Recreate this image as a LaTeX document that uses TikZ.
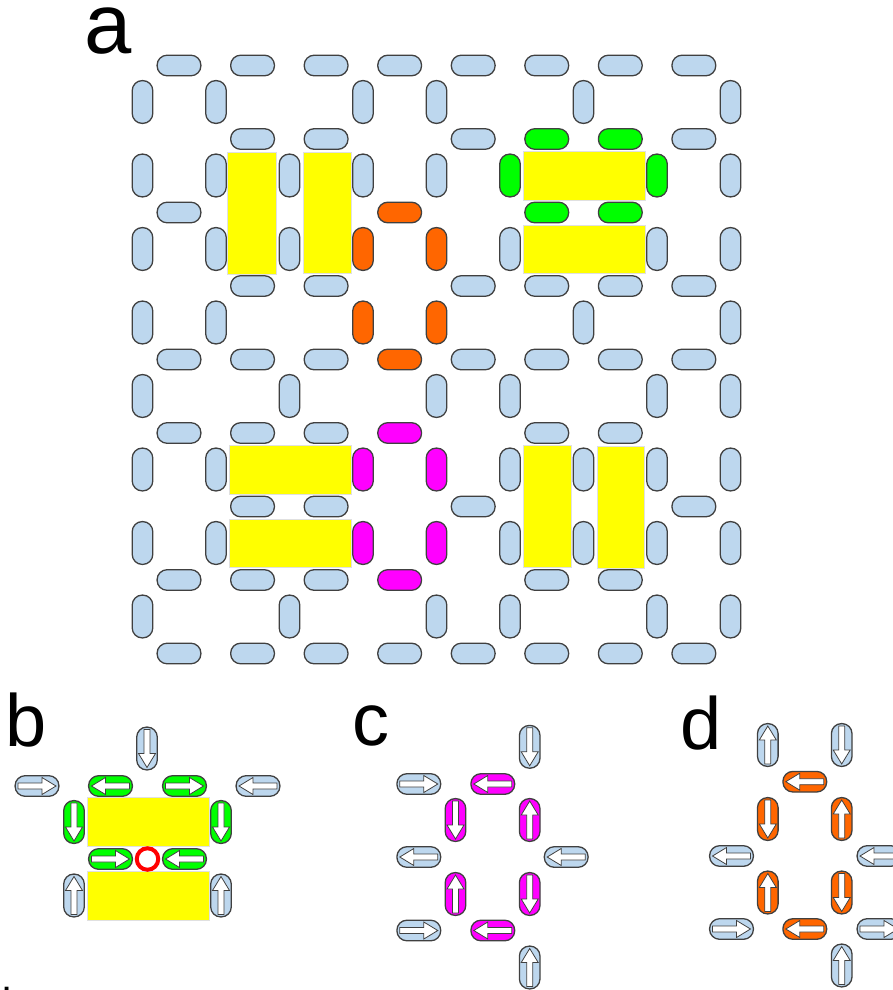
\documentclass[tikz,border=0pt]{standalone}
\usepackage{fontspec}
\newfontfamily\labfont{Liberation Sans}
\definecolor{cb}{HTML}{BDD7EE}
\definecolor{cg}{HTML}{00FF00}
\definecolor{co}{HTML}{FF6600}
\definecolor{cm}{HTML}{FF00FF}
\definecolor{bord}{HTML}{404040}
\definecolor{yel}{HTML}{FFFF00}
\begin{document}
\begin{tikzpicture}[x=0.5pt,y=-0.5pt,
  pill/.style={draw=bord, line width=0.65pt, rectangle, rounded corners=5pt, inner sep=0pt, outer sep=0pt},
  pillH/.style={pill, minimum width=21.9pt, minimum height=10.3pt},
  pillV/.style={pill, minimum width=10.3pt, minimum height=21.4pt},
  ybox/.style={fill=yel, draw=black!12, line width=0.3pt},
  ring/.style={circle, draw=red, line width=2pt, fill=white, minimum size=10.75pt, inner sep=0pt},
  arrsty/.style={draw=bord, fill=white, line width=0.4pt, line join=miter},
  lab/.style={anchor=base west, inner sep=0pt, font=\labfont\fontsize{37pt}{40pt}\selectfont},
  pics/arr/.style={code={\path[arrsty] (-19,-3) -- (5,-3) -- (5,-8.5) -- (19,0) -- (5,8.5) -- (5,3) -- (-19,3) -- cycle;}}
]
\useasboundingbox (0,0) rectangle (893,990);

% ---------- panel a ----------
\node[lab, font=\labfont\fontsize{42.5pt}{46pt}\selectfont] (la) at (83.7,54) {a};

% yellow blocks
\path[ybox] (227,152) rectangle (276,274);
\path[ybox] (303,152) rectangle (351,273);
\path[ybox] (523,151) rectangle (645,200);
\path[ybox] (523,225) rectangle (645,273);
\path[ybox] (229,445) rectangle (351,494);
\path[ybox] (229,519) rectangle (351,567);
\path[ybox] (523,445) rectangle (571,567);
\path[ybox] (597,446) rectangle (644,568);

% horizontal pills
\foreach \k/\c in {0/cb,1/cb,2/cb,3/cb,4/cb,5/cb,6/cb,7/cb}
  \node[pillH, fill=\c] (h0\k) at ({179+73.55*\k},65.5) {};
\foreach \k/\c in {1/cb,2/cb,4/cb,5/cg,6/cg,7/cb}
  \node[pillH, fill=\c] (h1\k) at ({179+73.55*\k},139) {};
\foreach \k/\c in {0/cb,3/co,5/cg,6/cg}
  \node[pillH, fill=\c] (h2\k) at ({179+73.55*\k},212.5) {};
\foreach \k/\c in {1/cb,2/cb,4/cb,5/cb,6/cb,7/cb}
  \node[pillH, fill=\c] (h3\k) at ({179+73.55*\k},286) {};
\foreach \k/\c in {0/cb,1/cb,2/cb,3/co,4/cb,5/cb,6/cb,7/cb}
  \node[pillH, fill=\c] (h4\k) at ({179+73.55*\k},359.5) {};
\foreach \k/\c in {0/cb,1/cb,2/cb,3/cm,5/cb,6/cb}
  \node[pillH, fill=\c] (h5\k) at ({179+73.55*\k},433) {};
\foreach \k/\c in {1/cb,2/cb,4/cb,7/cb}
  \node[pillH, fill=\c] (h6\k) at ({179+73.55*\k},506.5) {};
\foreach \k/\c in {0/cb,1/cb,2/cb,3/cm,5/cb,6/cb}
  \node[pillH, fill=\c] (h7\k) at ({179+73.55*\k},580) {};
\foreach \k/\c in {0/cb,1/cb,2/cb,3/cb,4/cb,5/cb,6/cb,7/cb}
  \node[pillH, fill=\c] (h8\k) at ({179+73.55*\k},653.5) {};

% vertical pills
\foreach \k/\c in {0/cb,1/cb,3/cb,4/cb,6/cb,8/cb}
  \node[pillV, fill=\c] (v0\k) at ({142.5+73.5*\k},102) {};
\foreach \k/\c in {0/cb,1/cb,2/cb,3/cb,4/cb,5/cg,7/cg,8/cb}
  \node[pillV, fill=\c] (v1\k) at ({142.5+73.5*\k},175.5) {};
\foreach \k/\c in {0/cb,1/cb,2/cb,3/co,4/co,5/cb,7/cb,8/cb}
  \node[pillV, fill=\c] (v2\k) at ({142.5+73.5*\k},249) {};
\foreach \k/\c in {0/cb,1/cb,3/co,4/co,6/cb,8/cb}
  \node[pillV, fill=\c] (v3\k) at ({142.5+73.5*\k},322.5) {};
\foreach \k/\c in {0/cb,2/cb,4/cb,5/cb,7/cb,8/cb}
  \node[pillV, fill=\c] (v4\k) at ({142.5+73.5*\k},396) {};
\foreach \k/\c in {0/cb,1/cb,3/cm,4/cm,5/cb,6/cb,7/cb,8/cb}
  \node[pillV, fill=\c] (v5\k) at ({142.5+73.5*\k},469.5) {};
\foreach \k/\c in {0/cb,1/cb,3/cm,4/cm,5/cb,6/cb,7/cb,8/cb}
  \node[pillV, fill=\c] (v6\k) at ({142.5+73.5*\k},543) {};
\foreach \k/\c in {0/cb,2/cb,4/cb,5/cb,7/cb,8/cb}
  \node[pillV, fill=\c] (v7\k) at ({142.5+73.5*\k},616.5) {};

% ---------- panel b ----------
\node[lab] (lb) at (5.2,746) {b};
\path[ybox] (87,797) rectangle (209,846);
\path[ybox] (87,871) rectangle (209,920);
\node[pillV, fill=cb] (b1) at (147,748.5) {};   \pic[rotate=-90] at (b1) {arr};
\node[pillH, fill=cb] (b2) at (37,786) {};      \pic at (b2) {arr};
\node[pillH, fill=cg] (b3) at (110.5,786) {};   \pic[rotate=180] at (b3) {arr};
\node[pillH, fill=cg] (b4) at (184.5,786) {};   \pic at (b4) {arr};
\node[pillH, fill=cb] (b5) at (258,786) {};     \pic[rotate=180] at (b5) {arr};
\node[pillV, fill=cg] (b6) at (74,822) {};      \pic[rotate=-90] at (b6) {arr};
\node[pillV, fill=cg] (b7) at (221,822) {};     \pic[rotate=-90] at (b7) {arr};
\node[pillH, fill=cg] (b8) at (110.5,859) {};   \pic at (b8) {arr};
\node[ring] (bring) at (147.5,859) {};
\node[pillH, fill=cg] (b9) at (184.5,859) {};   \pic[rotate=180] at (b9) {arr};
\node[pillV, fill=cb] (b10) at (74,895.5) {};   \pic[rotate=90] at (b10) {arr};
\node[pillV, fill=cb] (b11) at (221,895.5) {};  \pic[rotate=90] at (b11) {arr};
\node[anchor=base west, inner sep=0pt, font=\labfont\fontsize{20pt}{22pt}\selectfont] (dot) at (1.4,991) {.};

% ---------- panel c ----------
\node[lab] (lc) at (352,745.7) {c};
\node[pillV, fill=cb] (c1) at (529.7,746.8) {};  \pic[rotate=-90] at (c1) {arr};
\node[pillH, fill=cb] (c2) at (418.8,784) {};    \pic at (c2) {arr};
\node[pillH, fill=cm] (c3) at (492.8,784) {};    \pic[rotate=180] at (c3) {arr};
\node[pillV, fill=cm] (c4) at (455.5,820) {};    \pic[rotate=-90] at (c4) {arr};
\node[pillV, fill=cm] (c5) at (529.7,820) {};    \pic[rotate=90] at (c5) {arr};
\node[pillH, fill=cb] (c6) at (418.8,857) {};    \pic[rotate=180] at (c6) {arr};
\node[pillH, fill=cb] (c7) at (566.2,857) {};    \pic[rotate=180] at (c7) {arr};
\node[pillV, fill=cm] (c8) at (455.5,894) {};    \pic[rotate=90] at (c8) {arr};
\node[pillV, fill=cm] (c9) at (529.7,894) {};    \pic[rotate=-90] at (c9) {arr};
\node[pillH, fill=cb] (c10) at (418.8,930.5) {}; \pic at (c10) {arr};
\node[pillH, fill=cm] (c11) at (492.8,930.5) {}; \pic[rotate=180] at (c11) {arr};
\node[pillV, fill=cb] (c12) at (529.7,967.5) {}; \pic[rotate=90] at (c12) {arr};

% ---------- panel d ----------
\node[lab] (ld) at (680.5,749) {d};
\node[pillV, fill=cb] (d1) at (767.8,745) {};    \pic[rotate=90] at (d1) {arr};
\node[pillV, fill=cb] (d2) at (841.7,745) {};    \pic[rotate=-90] at (d2) {arr};
\node[pillH, fill=co] (d3) at (804.8,781.7) {};  \pic[rotate=180] at (d3) {arr};
\node[pillV, fill=co] (d4) at (767.8,819) {};    \pic[rotate=-90] at (d4) {arr};
\node[pillV, fill=co] (d5) at (841.7,819) {};    \pic[rotate=90] at (d5) {arr};
\node[pillH, fill=cb] (d6) at (731.5,856) {};    \pic[rotate=180] at (d6) {arr};
\node[pillH, fill=cb] (d7) at (879,856) {};      \pic[rotate=180] at (d7) {arr};
\node[pillV, fill=co] (d8) at (767.8,892.5) {};  \pic[rotate=90] at (d8) {arr};
\node[pillV, fill=co] (d9) at (841.7,892.5) {};  \pic[rotate=-90] at (d9) {arr};
\node[pillH, fill=cb] (d10) at (731.5,929) {};   \pic at (d10) {arr};
\node[pillH, fill=co] (d11) at (804.8,929) {};   \pic[rotate=180] at (d11) {arr};
\node[pillH, fill=cb] (d12) at (879,929) {};     \pic at (d12) {arr};
\node[pillV, fill=cb] (d13) at (841.7,965.5) {}; \pic[rotate=90] at (d13) {arr};
\end{tikzpicture}
\end{document}
